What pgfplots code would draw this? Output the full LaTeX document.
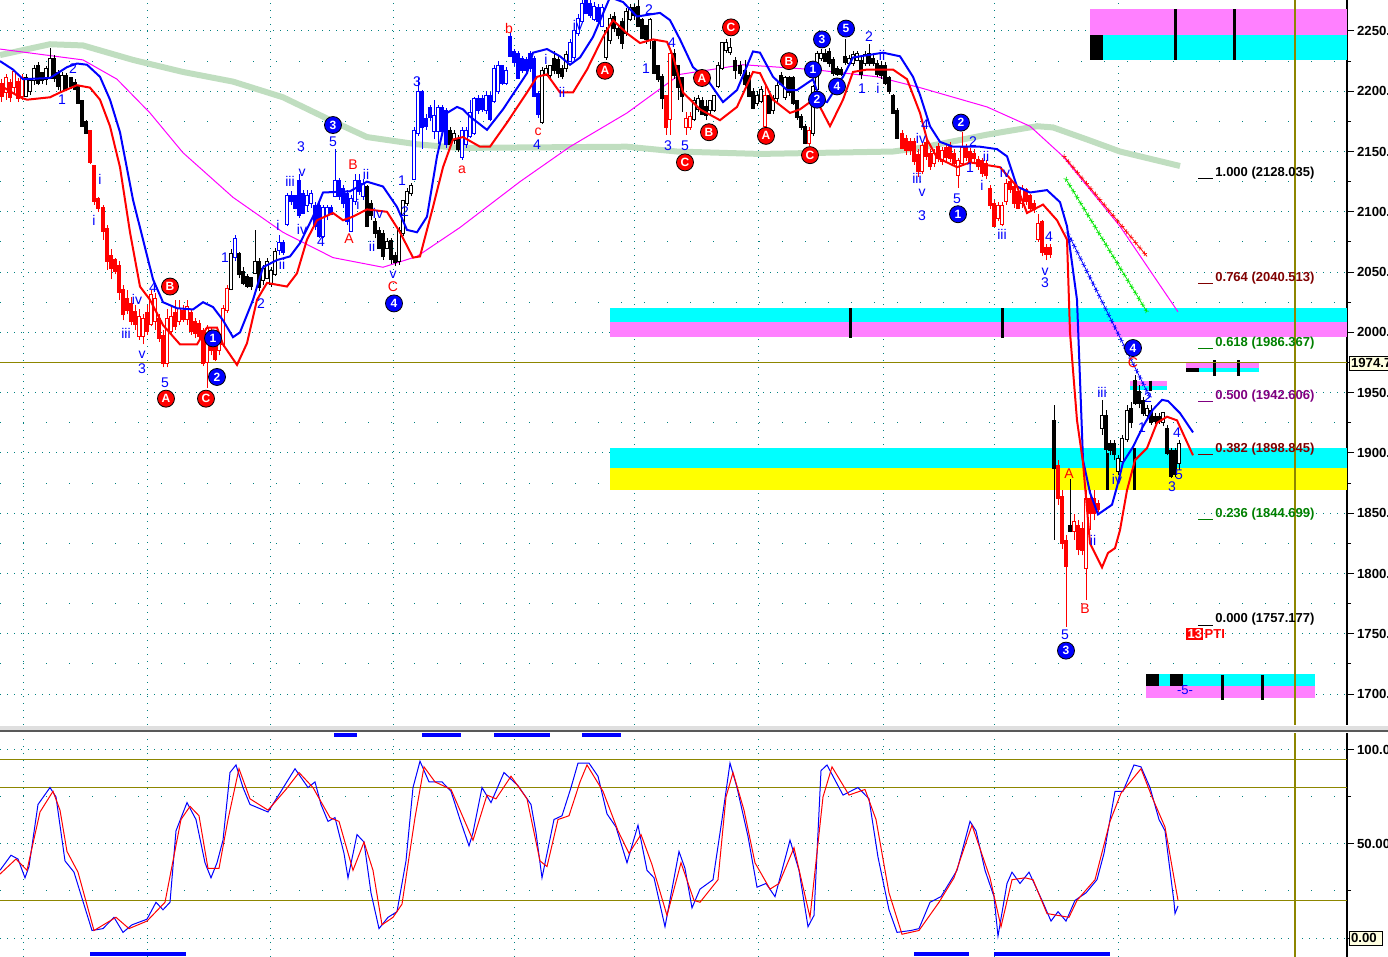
\documentclass[border=0pt]{standalone}
\usepackage{pgfplots}
\pgfplotsset{compat=1.18}
\usepackage{pgfplotstable}
\usepackage{fontspec}
\setmainfont{Liberation Sans}
\usetikzlibrary{decorations.markings}

\definecolor{mint}{RGB}{192,222,192}
\definecolor{pinkband}{RGB}{255,128,255}
\definecolor{cyanband}{RGB}{0,255,255}
\definecolor{yellowband}{RGB}{255,255,0}
\definecolor{mag}{RGB}{255,0,255}
\definecolor{gridteal}{RGB}{0,128,128}
\definecolor{fibred}{RGB}{128,0,0}
\definecolor{fibgreen}{RGB}{0,128,0}
\definecolor{fibpurple}{RGB}{128,0,128}
\definecolor{trendgreen}{RGB}{0,230,0}
\definecolor{boxyellow}{RGB}{255,255,225}
\definecolor{pblue}{RGB}{0,0,255}
\definecolor{pred}{RGB}{255,0,0}

% candles: x open high low close
\pgfplotstableread{
x o h l c
2 2205 2210 2191 2197
10 2206 2210 2191 2196
18 2207 2211 2191 2195
90 2166 2168 2140 2142
94 2137 2139 2106 2110
98 2110 2112 2100 2104
103 2102 2106 2077 2085
107 2085 2089 2052 2060
111 2063 2069 2044 2054
115 2059 2062 2048 2052
119 2054 2059 2027 2034
123 2034 2039 2010 2016
127 2027 2035 2015 2019
131 2023 2029 2006 2010
135 2016 2023 2002 2008
147 2015 2023 1998 2002
159 2010 2015 1992 1996
163 1996 2002 1971 1975
175 2015 2027 2002 2006
183 2017 2023 2009 2012
191 2015 2019 1998 2002
195 2008 2012 1995 2000
199 2006 2010 1994 1998
203 2000 2004 1972 1975
211 2000 2004 1981 1986
215 1990 1994 1976 1979
666 2195 2197 2164 2171
902 2164 2168 2152 2154
906 2160 2164 2147 2152
910 2157 2161 2147 2152
914 2157 2161 2139 2143
918 2146 2152 2129 2135
926 2156 2160 2143 2147
930 2147 2152 2135 2139
938 2153 2157 2141 2145
946 2152 2156 2142 2146
950 2154 2158 2141 2145
954 2147 2152 2137 2141
966 2152 2156 2142 2146
970 2149 2153 2139 2143
974 2147 2152 2141 2145
978 2142 2146 2135 2139
982 2141 2145 2129 2133
986 2139 2143 2127 2131
990 2118 2122 2102 2106
994 2106 2110 2087 2089
1010 2124 2128 2116 2120
1014 2120 2124 2103 2108
1018 2116 2120 2102 2104
1026 2117 2120 2106 2110
1030 2112 2115 2100 2104
1034 2106 2110 2099 2103
1042 2091 2093 2063 2067
1046 2069 2073 2060 2066
1050 2069 2073 2062 2066
1058 1888 1894 1857 1863
1062 1863 1869 1820 1826
1066 1826 1832 1756 1807
1078 1839 1844 1815 1821
1082 1836 1843 1815 1820
1090 1861 1869 1836 1851
1094 1861 1869 1844 1851
1098 1857 1861 1851 1854
}\redDown

\pgfplotstableread{
x o h l c
6 2200 2214 2193 2210
14 2204 2218 2197 2215
22 2197 2214 2193 2210
139 1998 2019 1994 2012
143 1998 2015 1990 2010
151 2008 2035 2005 2030
155 2010 2033 2002 2027
167 1975 2019 1971 2010
171 2002 2023 1998 2012
179 2010 2027 2006 2019
187 2012 2027 2006 2020
207 1976 2006 1954 2002
219 1986 1998 1981 1994
223 1991 2023 1988 2019
227 2019 2039 2016 2035
670 2178 2235 2164 2230
686 2171 2183 2164 2176
690 2171 2183 2168 2178
765 2172 2205 2170 2195
809 2158 2170 2155 2166
922 2135 2158 2131 2154
934 2141 2152 2137 2147
942 2143 2154 2139 2150
958 2131 2145 2120 2141
962 2141 2166 2138 2152
998 2096 2108 2092 2104
1002 2091 2108 2088 2104
1006 2110 2127 2106 2122
1022 2108 2122 2103 2118
1038 2078 2098 2075 2089
1074 1836 1849 1828 1842
1086 1805 1869 1778 1861
}\redUp

\pgfplotstableread{
x o h l c
283 2073 2077 2064 2067
291 2112 2117 2106 2110
295 2112 2114 2102 2104
299 2125 2131 2095 2098
303 2114 2118 2098 2100
315 2104 2108 2085 2089
319 2104 2108 2078 2081
331 2102 2106 2097 2099
339 2125 2128 2110 2114
343 2118 2122 2103 2108
347 2114 2118 2089 2093
359 2125 2131 2114 2118
422 2199 2201 2152 2171
426 2176 2181 2168 2172
430 2185 2189 2175 2179
442 2185 2189 2164 2168
446 2183 2186 2153 2157
478 2193 2197 2181 2185
482 2193 2197 2183 2186
490 2195 2199 2175 2178
502 2220 2222 2205 2208
510 2244 2249 2228 2230
514 2232 2235 2221 2225
518 2230 2233 2210 2212
522 2226 2229 2215 2218
526 2225 2228 2215 2218
530 2230 2233 2216 2220
534 2226 2229 2195 2197
538 2197 2200 2178 2182
586 2276 2280 2264 2266
590 2272 2276 2261 2264
598 2268 2272 2255 2259
}\blueDown

\pgfplotstableread{
x o h l c
235 2063 2081 2059 2077
279 2069 2081 2064 2073
287 2091 2116 2088 2112
307 2106 2118 2100 2112
311 2108 2118 2103 2114
323 2081 2106 2078 2102
327 2098 2106 2093 2102
335 2114 2152 2112 2125
351 2085 2114 2083 2110
355 2110 2131 2106 2125
363 2114 2127 2110 2122
414 2128 2170 2126 2166
418 2166 2211 2163 2199
434 2168 2193 2160 2179
438 2168 2189 2156 2185
462 2146 2170 2143 2166
466 2157 2170 2153 2166
470 2164 2193 2161 2181
474 2166 2195 2164 2193
486 2185 2200 2181 2195
494 2193 2222 2190 2218
498 2201 2225 2198 2220
506 2208 2220 2205 2216
570 2226 2243 2224 2239
574 2229 2251 2226 2249
578 2249 2264 2246 2259
582 2259 2276 2257 2272
594 2261 2274 2258 2269
602 2255 2272 2253 2268
}\blueUp

\pgfplotstableread{
x o h l c
38 2220 2224 2205 2208
42 2214 2216 2206 2210
54 2226 2230 2208 2212
58 2214 2218 2201 2205
66 2212 2215 2200 2203
71 2210 2212 2202 2205
75 2206 2210 2201 2203
78 2203 2205 2190 2191
82 2191 2193 2171 2172
86 2174 2176 2165 2166
239 2064 2067 2045 2049
243 2049 2054 2039 2042
247 2045 2048 2037 2039
251 2044 2046 2035 2039
259 2058 2062 2034 2038
367 2120 2122 2087 2089
371 2106 2110 2093 2098
375 2091 2095 2078 2083
379 2083 2087 2069 2071
383 2081 2085 2060 2064
391 2075 2078 2057 2062
395 2063 2067 2055 2059
450 2166 2170 2153 2157
458 2160 2164 2150 2153
554 2226 2233 2214 2218
558 2225 2229 2211 2216
562 2218 2222 2210 2213
614 2261 2266 2249 2253
618 2251 2255 2243 2247
622 2257 2261 2235 2241
634 2268 2272 2259 2264
638 2269 2276 2253 2255
642 2258 2261 2243 2245
646 2253 2255 2239 2244
654 2240 2243 2214 2216
658 2220 2222 2208 2211
662 2211 2214 2185 2195
674 2230 2235 2210 2214
678 2220 2222 2193 2204
682 2210 2212 2183 2197
702 2191 2195 2180 2182
706 2186 2193 2176 2181
735 2224 2228 2210 2218
740 2220 2225 2213 2216
745 2216 2226 2204 2207
749 2212 2216 2195 2197
753 2199 2203 2185 2187
769 2195 2199 2181 2183
781 2212 2216 2205 2207
789 2210 2213 2196 2200
793 2210 2213 2189 2191
797 2191 2193 2176 2179
801 2178 2181 2168 2171
805 2170 2173 2156 2158
825 2230 2235 2224 2226
829 2232 2236 2220 2224
833 2225 2228 2213 2216
837 2218 2221 2213 2215
841 2217 2220 2213 2215
845 2228 2243 2222 2225
861 2224 2228 2210 2215
869 2230 2239 2221 2224
873 2226 2230 2221 2224
877 2222 2226 2212 2215
881 2220 2225 2210 2214
885 2220 2224 2205 2208
889 2210 2213 2198 2201
893 2195 2198 2181 2183
897 2183 2186 2160 2162
1054 1926 1940 1828 1888
1070 1839 1878 1834 1836
1106 1930 1936 1898 1904
1110 1907 1911 1898 1903
1114 1907 1911 1894 1900
1131 1936 1942 1921 1926
1135 1959 1965 1940 1942
1139 1950 1956 1937 1942
1143 1942 1946 1931 1934
1151 1934 1940 1923 1926
1155 1929 1933 1924 1927
1159 1929 1933 1924 1927
1167 1919 1923 1898 1901
1171 1901 1904 1879 1882
1175 1901 1904 1880 1883
}\blackDown

\pgfplotstableread{
x o h l c
26 2197 2214 2195 2210
30 2201 2211 2197 2208
34 2210 2222 2205 2218
46 2211 2221 2205 2218
50 2212 2236 2210 2226
62 2201 2216 2199 2212
231 2037 2069 2035 2064
255 2050 2085 2048 2058
263 2044 2056 2039 2052
267 2046 2062 2044 2058
271 2041 2054 2038 2050
275 2049 2070 2047 2066
387 2071 2078 2069 2074
399 2060 2087 2056 2083
403 2083 2110 2080 2108
407 2108 2120 2105 2116
411 2116 2124 2113 2121
454 2160 2168 2156 2164
542 2175 2220 2173 2216
546 2215 2222 2213 2218
550 2214 2222 2211 2220
566 2220 2233 2216 2229
606 2229 2253 2226 2249
610 2243 2264 2239 2259
626 2249 2269 2246 2265
630 2261 2272 2258 2268
650 2243 2261 2235 2258
694 2178 2195 2175 2191
698 2186 2197 2183 2193
710 2185 2193 2181 2191
714 2185 2197 2183 2195
718 2205 2224 2203 2220
722 2220 2241 2218 2239
726 2235 2243 2232 2239
730 2233 2244 2230 2235
757 2191 2200 2188 2195
761 2193 2204 2190 2200
773 2185 2197 2181 2193
777 2195 2208 2191 2204
785 2196 2213 2193 2210
813 2166 2205 2163 2203
817 2203 2233 2201 2230
821 2228 2235 2225 2230
849 2224 2230 2221 2226
853 2224 2233 2221 2229
857 2227 2233 2225 2230
865 2224 2233 2221 2229
1102 1921 1944 1915 1930
1118 1886 1898 1882 1894
1122 1894 1915 1890 1911
1127 1912 1940 1909 1934
1147 1932 1940 1927 1936
1163 1926 1934 1922 1932
1179 1892 1911 1886 1907
}\blackUp

% wick (low to high) and body (open to close) as vertical quiver segments
\newcommand\wicks[2]{%
  \addplot[#2, line width=0.5pt, quiver={u=0, v=\thisrow{h}-\thisrow{l}}]
    table[x=x, y=l] {#1};}
\newcommand\bodies[3]{%
  \addplot[#2, line width=#3, line cap=rect, quiver={u=0, v={abs(\thisrow{o}-\thisrow{c})}}]
    table[x=x, y expr={min(\thisrow{o},\thisrow{c})}] {#1};}
\newcommand\solidcandles[2]{\wicks{#1}{#2}\bodies{#1}{#2}{1.9pt}}
\newcommand\hollowcandles[2]{\wicks{#1}{#2}\bodies{#1}{#2}{1.9pt}\bodies{#1}{white}{0.9pt}}

\tikzset{
  bl/.style={text=pblue, font=\fontsize{7}{8}\selectfont, inner sep=0pt},
  rl/.style={text=pred, font=\fontsize{7}{8}\selectfont, inner sep=0pt},
  rc/.style={circle, fill=pred, draw=black, line width=0.4pt, text=white,
    font=\bfseries\fontsize{6}{6}\selectfont, inner sep=0pt, minimum size=8.5pt},
  bc/.style={rc, fill=pblue},
  fib/.style={anchor=base west, inner sep=0pt, font=\bfseries\fontsize{6.5}{7}\selectfont},
  xtrend/.style={postaction={decorate}, decoration={markings,
    mark=between positions 0 and 1 step 3.5pt with {\draw[#1, line width=0.3pt] (-0.9pt,-0.9pt)--(0.9pt,0.9pt) (-0.9pt,0.9pt)--(0.9pt,-0.9pt);}}},
}

\pgfplotsset{
  panel/.style={
    scale only axis, width=673.5pt, xmin=0, xmax=1347,
    axis x line*=bottom, axis y line*=right,
    x axis line style={draw=none}, xtick style={draw=none},
    xtick={23,147,270,393,514,634,758,883,994,1118}, xticklabels={},
    xmajorgrids, ymajorgrids, yminorgrids, minor y tick num=1,
    major grid style={gridteal, line width=0.5pt, dash pattern=on 0.5pt off 3pt},
    minor grid style={gridteal, line width=0.5pt, dash pattern=on 0.5pt off 11pt},
    tick align=outside, major tick length=3.5pt, minor tick length=2pt,
    y axis line style={black, line width=0.6pt},
    ytick style={black, line width=0.5pt},
    yticklabel style={font=\bfseries\fontsize{6.6}{8}\selectfont, anchor=west, xshift=-2pt},
  },
}

\begin{document}
\begin{tikzpicture}
\useasboundingbox (0,0) rectangle (694pt,-478.5pt);

% ---------------- price panel ----------------
\begin{axis}[panel, at={(0pt,0pt)}, anchor=north west, height=362.5pt,
  ymin=1674.3, ymax=2275.7, ytick={1700,1750,...,2250},
  yticklabel style={/pgf/number format/.cd, fixed, fixed zerofill, precision=2, 1000 sep={}, assume math mode=true}]

% support / resistance bands
\addplot[draw=none, fill=cyanband] coordinates {(610,2020) (1347,2020) (1347,2009) (610,2009)};
\addplot[draw=none, fill=pinkband] coordinates {(610,2009) (1347,2009) (1347,1996) (610,1996)};
\addplot[draw=none, fill=cyanband] coordinates {(610,1904) (1347,1904) (1347,1887.5) (610,1887.5)};
\addplot[draw=none, fill=yellowband] coordinates {(610,1887.5) (1347,1887.5) (1347,1869) (610,1869)};
\addplot[draw=none, fill=pinkband] coordinates {(1090,2268) (1347,2268) (1347,2247) (1090,2247)};
\addplot[draw=none, fill=cyanband] coordinates {(1090,2247) (1347,2247) (1347,2226) (1090,2226)};
\addplot[draw=none, fill=black] coordinates {(1090,2247) (1103,2247) (1103,2226) (1090,2226)};
\addplot[draw=none, fill=pinkband] coordinates {(1186,1975.5) (1259,1975.5) (1259,1970.5) (1186,1970.5)};
\addplot[draw=none, fill=cyanband] coordinates {(1186,1970.5) (1259,1970.5) (1259,1967) (1186,1967)};
\addplot[draw=none, fill=black] coordinates {(1186,1970.5) (1199,1970.5) (1199,1967) (1186,1967)};
\addplot[draw=none, fill=pinkband] coordinates {(1130,1960) (1167,1960) (1167,1955.5) (1130,1955.5)};
\addplot[draw=none, fill=cyanband] coordinates {(1130,1955.5) (1167,1955.5) (1167,1952) (1130,1952)};
\addplot[draw=none, fill=cyanband] coordinates {(1146,1716.3) (1315,1716.3) (1315,1706.3) (1146,1706.3)};
\addplot[draw=none, fill=pinkband] coordinates {(1146,1706.3) (1315,1706.3) (1315,1696.3) (1146,1696.3)};
\addplot[draw=none, fill=black] coordinates {(1146,1716.3) (1159,1716.3) (1159,1706.3) (1146,1706.3)};
\addplot[draw=none, fill=black] coordinates {(1170,1716.3) (1183,1716.3) (1183,1706.3) (1170,1706.3)};
% band markers
\addplot[black, line width=1.5pt] coordinates {(1175,2268) (1175,2226)};
\addplot[black, line width=1.5pt] coordinates {(1234,2268) (1234,2226)};
\addplot[black, line width=1.5pt] coordinates {(850,2020) (850,1995)};
\addplot[black, line width=1.5pt] coordinates {(1002,2020) (1002,1995)};
\addplot[black, line width=1.5pt] coordinates {(1107,1900) (1107,1869)};
\addplot[black, line width=1.5pt] coordinates {(1134,1904) (1134,1869)};
\addplot[black, line width=1.5pt] coordinates {(1214,1977) (1214,1964)};
\addplot[black, line width=1.5pt] coordinates {(1238,1977) (1238,1964)};
\addplot[black, line width=1.5pt] coordinates {(1150,1960) (1150,1951)};
\addplot[black, line width=1.5pt] coordinates {(1222,1716) (1222,1695)};
\addplot[black, line width=1.5pt] coordinates {(1262,1716) (1262,1695)};

% reference lines
\addplot[olive, line width=0.6pt] coordinates {(0,1974.7) (1347,1974.7)};
\addplot[olive, line width=0.6pt] coordinates {(1295,1674.3) (1295,2275.7)};

% long average (pale green)
\addplot[mint, line width=3pt] coordinates {
(0,2230) (50,2239) (83,2238) (133,2226) (183,2216) (233,2208) (283,2195) (333,2175)
(367,2162) (417,2156) (460,2153) (627,2154) (677,2150) (760,2148) (893,2150) (920,2153)
(987,2164) (1037,2171) (1053,2170) (1087,2160) (1120,2150) (1180,2138)};
% medium average (magenta)
\addplot[mag, line width=0.5pt] coordinates {
(0,2235) (83,2226) (117,2210) (150,2182) (183,2149) (233,2112) (283,2083) (333,2062)
(383,2054) (417,2063) (460,2087) (520,2125) (570,2154) (627,2182) (680,2214) (743,2222)
(813,2218) (877,2212) (920,2203) (987,2187) (1030,2171) (1063,2146) (1120,2088) (1178,2017)};

% trend lines with x marks
\addplot[pred, line width=0.4pt, xtrend=pred] coordinates {(1064,2146) (1147,2063)};
\addplot[trendgreen, line width=0.4pt, xtrend=trendgreen] coordinates {(1066,2127) (1147,2017)};
\addplot[pblue, line width=0.4pt, xtrend=pblue] coordinates {(1068,2082) (1150,1946)};

% candles
\solidcandles{\redDown}{pred}
\hollowcandles{\redUp}{pred}
\solidcandles{\blueDown}{pblue}
\hollowcandles{\blueUp}{pblue}
\solidcandles{\blackDown}{black}
\hollowcandles{\blackUp}{black}

% upper and lower envelopes
\addplot[pblue, line width=1pt] coordinates {
(0,2225) (13,2218) (23,2210) (50,2211) (67,2220) (77,2223) (87,2222) (100,2212) (110,2193)
(120,2166) (133,2110) (143,2077) (153,2044) (163,2025) (177,2020) (193,2019) (203,2025)
(213,2021) (223,2010) (233,1996) (240,2000) (253,2027) (263,2054) (277,2060) (290,2063)
(300,2074) (313,2096) (323,2116) (350,2117) (367,2125) (383,2121) (397,2104) (407,2085)
(417,2083) (427,2096) (437,2146) (447,2182) (457,2187) (463,2185) (470,2179) (487,2168)
(503,2185) (527,2215) (533,2232) (547,2235) (560,2229) (570,2222) (580,2228) (593,2245)
(610,2278) (623,2274) (637,2262) (660,2265) (670,2259) (680,2243) (693,2220) (707,2210)
(723,2191) (737,2201) (753,2233) (760,2232) (773,2212) (787,2201) (797,2201) (813,2210)
(820,2193) (827,2191) (843,2212) (853,2228) (883,2232) (900,2229) (913,2212) (920,2197)
(930,2171) (940,2158) (953,2154) (980,2154) (997,2152) (1007,2146) (1017,2121) (1030,2116)
(1047,2118) (1060,2108) (1067,2088) (1077,2027) (1080,1961) (1083,1894) (1090,1867)
(1098,1849) (1112,1857) (1117,1872) (1123,1892) (1133,1905) (1143,1922) (1153,1936)
(1162,1944) (1168,1943) (1180,1933) (1193,1917)};
\addplot[pred, line width=1pt] coordinates {
(0,2205) (20,2195) (27,2193) (50,2195) (60,2199) (77,2205) (90,2203) (100,2193) (110,2171)
(120,2137) (130,2083) (140,2038) (150,2027) (163,2006) (180,1990) (197,1990) (207,2004)
(217,2004) (223,1990) (237,1973) (247,1991) (257,2027) (267,2041) (287,2038) (297,2049)
(307,2077) (317,2093) (333,2099) (343,2093) (353,2096) (367,2102) (387,2100) (400,2083)
(413,2062) (420,2063) (433,2104) (443,2137) (453,2160) (463,2162) (480,2154) (490,2154)
(507,2174) (527,2199) (537,2212) (547,2214) (560,2199) (573,2199) (587,2218) (603,2245)
(613,2259) (627,2248) (640,2240) (653,2243) (667,2241) (673,2229) (683,2199) (700,2185)
(720,2176) (737,2187) (753,2216) (760,2215) (773,2193) (790,2182) (800,2185) (810,2191)
(820,2187) (830,2171) (843,2193) (853,2216) (867,2218) (893,2218) (907,2210) (920,2182)
(927,2160) (937,2145) (957,2137) (970,2141) (1000,2137) (1017,2121) (1027,2099) (1043,2106)
(1057,2093) (1067,2077) (1070,2000) (1077,1927) (1083,1892) (1090,1825) (1102,1805)
(1108,1817) (1115,1821) (1120,1836) (1127,1869) (1135,1894) (1147,1904) (1157,1925)
(1167,1930) (1177,1927) (1193,1898)};

% Fibonacci levels
\draw[black, line width=0.5pt] (axis cs:1198,2128.035) -- (axis cs:1213,2128.035);
\node[fib, text=black] at (axis cs:1215,2129.5) {1.000 (2128.035)};
\draw[fibred, line width=0.5pt] (axis cs:1198,2040.513) -- (axis cs:1213,2040.513);
\node[fib, text=fibred] at (axis cs:1215,2042) {0.764 (2040.513)};
\draw[fibgreen, line width=0.5pt] (axis cs:1198,1986.367) -- (axis cs:1213,1986.367);
\node[fib, text=fibgreen] at (axis cs:1215,1988) {0.618 (1986.367)};
\draw[fibpurple, line width=0.5pt] (axis cs:1198,1942.606) -- (axis cs:1213,1942.606);
\node[fib, text=fibpurple] at (axis cs:1215,1944) {0.500 (1942.606)};
\draw[fibred, line width=0.5pt] (axis cs:1198,1898.845) -- (axis cs:1213,1898.845);
\node[fib, text=fibred] at (axis cs:1215,1900.5) {0.382 (1898.845)};
\draw[fibgreen, line width=0.5pt] (axis cs:1198,1844.699) -- (axis cs:1213,1844.699);
\node[fib, text=fibgreen] at (axis cs:1215,1846.5) {0.236 (1844.699)};
\draw[black, line width=0.5pt] (axis cs:1198,1757.177) -- (axis cs:1213,1757.177);
\node[fib, text=black] at (axis cs:1215,1759) {0.000 (1757.177)};
\node[fill=pred, text=white, anchor=west, inner sep=0.6pt, font=\bfseries\fontsize{6.5}{7}\selectfont] (p13) at (axis cs:1186,1750) {13};
\node[text=pred, anchor=west, inner sep=0.3pt, font=\bfseries\fontsize{6.5}{7}\selectfont] at (p13.east) {PTI};
\node[text=pblue, font=\fontsize{6.5}{7}\selectfont, inner sep=0pt] at (axis cs:1185,1703) {-5-};

% wave labels
\node[bl] at (axis cs:62,2193) {1};
\node[bl] at (axis cs:73,2219) {2};
\node[bl] at (axis cs:100,2127) {i};
\node[bl] at (axis cs:94,2093) {i};
\node[bl] at (axis cs:126,1999) {iii};
\node[bl] at (axis cs:137,2027) {iv};
\node[bl] at (axis cs:153,2037) {4};
\node[bl] at (axis cs:142,1981) {v};
\node[bl] at (axis cs:142,1970) {3};
\node[bl] at (axis cs:165,1958) {5};
\node[bl] at (axis cs:225,2062) {1};
\node[bl] at (axis cs:261,2024) {2};
\node[bl] at (axis cs:278,2089) {i};
\node[bl] at (axis cs:282,2056) {ii};
\node[bl] at (axis cs:290,2125) {iii};
\node[bl] at (axis cs:302,2132) {v};
\node[bl] at (axis cs:301,2154) {3};
\node[bl] at (axis cs:302,2085) {iv};
\node[bl] at (axis cs:321,2075) {4};
\node[bl] at (axis cs:333,2158) {5};
\node[bl] at (axis cs:366,2131) {ii};
\node[bl] at (axis cs:358,2106) {i};
\node[bl] at (axis cs:378,2099) {iv};
\node[bl] at (axis cs:372,2071) {ii};
\node[bl] at (axis cs:393,2048) {v};
\node[bl] at (axis cs:402,2126) {1};
\node[bl] at (axis cs:405,2100) {2};
\node[bl] at (axis cs:417,2208) {3};
\node[bl] at (axis cs:537,2156) {4};
\node[bl] at (axis cs:546,2226) {i};
\node[bl] at (axis cs:578,2255) {iv};
\node[bl] at (axis cs:562,2199) {ii};
\node[bl] at (axis cs:649,2268) {2};
\node[bl] at (axis cs:646,2219) {1};
\node[bl] at (axis cs:672,2240) {4};
\node[bl] at (axis cs:668,2155) {3};
\node[bl] at (axis cs:685,2155) {5};
\node[bl] at (axis cs:862,2202) {1};
\node[bl] at (axis cs:878,2202) {i};
\node[bl] at (axis cs:869,2245) {2};
\node[bl] at (axis cs:882,2230) {ii};
\node[bl] at (axis cs:925,2172) {4};
\node[bl] at (axis cs:921,2161) {iv};
\node[bl] at (axis cs:917,2128) {iii};
\node[bl] at (axis cs:922,2116) {v};
\node[bl] at (axis cs:922,2097) {3};
\node[bl] at (axis cs:957,2111) {5};
\node[bl] at (axis cs:973,2158) {2};
\node[bl] at (axis cs:970,2137) {1};
\node[bl] at (axis cs:986,2146) {ii};
\node[bl] at (axis cs:982,2122) {i};
\node[bl] at (axis cs:1005,2133) {iv};
\node[bl] at (axis cs:1002,2081) {iii};
\node[bl] at (axis cs:1049,2079) {4};
\node[bl] at (axis cs:1045,2050) {v};
\node[bl] at (axis cs:1045,2041) {3};
\node[bl] at (axis cs:1065,1749) {5};
\node[bl] at (axis cs:1102,1950) {iii};
\node[bl] at (axis cs:1093,1827) {ii};
\node[bl] at (axis cs:1117,1878) {iv};
\node[bl] at (axis cs:1142,1921) {1};
\node[bl] at (axis cs:1148,1946) {2};
\node[bl] at (axis cs:1177,1917) {4};
\node[bl] at (axis cs:1172,1872) {3};
\node[bl] at (axis cs:1179,1882) {5};
\node[rl] at (axis cs:349,2078) {A};
\node[rl] at (axis cs:353,2139) {B};
\node[rl] at (axis cs:393,2038) {C};
\node[rl] at (axis cs:462,2135) {a};
\node[rl] at (axis cs:509,2252) {b};
\node[rl] at (axis cs:538,2166) {c};
\node[rl] at (axis cs:1069,1883) {A};
\node[rl] at (axis cs:1085,1771) {B};
\node[rl] at (axis cs:1133,1975) {C};
\node[rc] at (axis cs:166,1945) {A};
\node[rc] at (axis cs:206,1945) {C};
\node[rc] at (axis cs:170,2038) {B};
\node[rc] at (axis cs:605,2217) {A};
\node[rc] at (axis cs:731,2253) {C};
\node[rc] at (axis cs:702,2211) {A};
\node[rc] at (axis cs:709,2166) {B};
\node[rc] at (axis cs:685,2141) {C};
\node[rc] at (axis cs:766,2163) {A};
\node[rc] at (axis cs:789,2225) {B};
\node[rc] at (axis cs:810,2147) {C};
\node[bc] at (axis cs:213,1995) {1};
\node[bc] at (axis cs:217,1963) {2};
\node[bc] at (axis cs:333,2172) {3};
\node[bc] at (axis cs:394,2024) {4};
\node[bc] at (axis cs:822,2243) {3};
\node[bc] at (axis cs:846,2252) {5};
\node[bc] at (axis cs:813,2218) {1};
\node[bc] at (axis cs:817,2193) {2};
\node[bc] at (axis cs:837,2204) {4};
\node[bc] at (axis cs:961,2174) {2};
\node[bc] at (axis cs:958,2098) {1};
\node[bc] at (axis cs:1133,1987) {4};
\node[bc] at (axis cs:1066,1736) {3};
\end{axis}

% ---------------- stochastic panel ----------------
\begin{axis}[panel, at={(0pt,-366.5pt)}, anchor=north west, height=112pt,
  ymin=-10.1, ymax=109, ytick={0,50,100}, yticklabels={,50.00,100.0}]
\addplot[olive, line width=0.6pt] coordinates {(0,95) (1347,95)};
\addplot[olive, line width=0.6pt] coordinates {(0,80) (1347,80)};
\addplot[olive, line width=0.6pt] coordinates {(0,20) (1347,20)};
\addplot[olive, line width=0.6pt] coordinates {(1295,-10.1) (1295,109)};
\addplot[pblue, line width=2pt] coordinates {(334,108) (357,108)};
\addplot[pblue, line width=2pt] coordinates {(422,108) (461,108)};
\addplot[pblue, line width=2pt] coordinates {(494,108) (550,108)};
\addplot[pblue, line width=2pt] coordinates {(582,108) (621,108)};
\addplot[pblue, line width=2pt] coordinates {(90,-8.5) (186,-8.5)};
\addplot[pblue, line width=2pt] coordinates {(914,-8.5) (969,-8.5)};
\addplot[pblue, line width=2pt] coordinates {(994,-8.5) (1110,-8.5)};
% %K
\addplot[pblue, line width=0.5pt] coordinates {
(0,36) (11,44) (18,42) (25,32) (29,38) (38,71) (50,80) (56,75) (65,41) (74,35) (85,16) (92,4)
(103,5) (114,11) (123,3) (132,7) (147,10) (156,19) (163,15) (170,19) (176,57) (187,72) (196,63)
(205,40) (211,32) (217,40) (223,52) (230,88) (236,92) (243,80) (250,71) (268,67) (281,78)
(295,90) (308,80) (315,83) (321,71) (328,62) (335,64) (344,45) (348,32) (357,55) (364,51)
(371,24) (379,5) (388,11) (397,14) (406,41) (413,80) (420,94) (429,83) (442,83) (451,78)
(460,63) (469,49) (473,56) (482,80) (491,72) (504,88) (518,81) (531,71) (536,56) (542,32)
(554,63) (562,65) (571,80) (578,93) (589,93) (598,86) (607,66) (616,59) (627,40) (638,60)
(647,36) (654,32) (665,6) (679,46) (685,37) (692,16) (700,26) (713,31) (722,63) (730,93)
(737,80) (748,54) (757,27) (766,29) (775,22) (790,52) (799,36) (808,6) (814,12) (821,89)
(827,92) (843,76) (858,80) (869,74) (878,43) (889,15) (897,3) (911,4) (919,5) (930,19)
(941,22) (957,36) (970,62) (976,57) (985,36) (994,22) (998,1) (1007,29) (1012,35) (1020,29)
(1029,35) (1042,20) (1051,9) (1058,14) (1066,9) (1075,20) (1086,24) (1097,31) (1104,45)
(1115,78) (1123,78) (1134,92) (1141,91) (1150,80) (1159,63) (1165,57) (1174,19) (1175,13)
(1178,17)};
% %D
\addplot[pred, line width=0.5pt] coordinates {
(0,34) (16,42) (27,36) (40,67) (53,78) (60,68) (67,46) (78,35) (94,4) (116,11) (129,5)
(147,9) (165,19) (181,63) (190,70) (199,65) (208,37) (219,37) (228,63) (239,90) (250,74)
(268,68) (286,79) (299,88) (313,80) (330,64) (339,62) (353,36) (364,51) (373,36) (382,7)
(393,11) (402,18) (415,64) (424,91) (435,83) (451,79) (464,63) (473,52) (487,76) (496,74)
(511,86) (527,74) (540,41) (547,38) (558,63) (569,65) (580,83) (587,92) (603,78) (618,57)
(629,45) (641,55) (652,39) (667,12) (681,40) (694,20) (700,19) (718,31) (726,75) (733,88)
(744,68) (755,40) (770,26) (779,29) (794,48) (810,11) (823,75) (832,91) (849,76) (865,79)
(876,63) (889,24) (902,2) (919,4) (939,19) (954,32) (972,60) (990,32) (1001,6) (1012,31)
(1025,32) (1033,31) (1047,13) (1069,11) (1077,20) (1095,31) (1110,62) (1121,77) (1141,90)
(1152,75) (1165,59) (1178,20)};
\end{axis}

% panel separator and value boxes
\fill[gray!25] (0pt,-363pt) rectangle (694pt,-366pt);
\draw[gray!70!black, line width=0.6pt] (0pt,-365.5pt) -- (694pt,-365.5pt);
\node[draw=black, fill=boxyellow, anchor=west, inner sep=0.8pt, minimum height=7pt,
  font=\bfseries\fontsize{6.6}{8}\selectfont] at (674.5pt,-181.5pt) {1974.7};
\node[draw=black, fill=boxyellow, anchor=west, inner sep=0.8pt, minimum height=7pt,
  font=\bfseries\fontsize{6.6}{8}\selectfont] at (674.5pt,-469pt) {0.00\ \ };
\end{tikzpicture}
\end{document}
